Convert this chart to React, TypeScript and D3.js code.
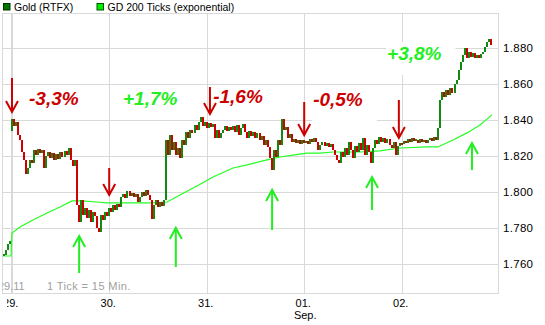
import React from 'react';
import * as d3 from 'd3';

const W = 545;
const H = 325;

// x axis: day boundaries (hours since 29 Aug 00:00)
const dayLabels = ['29.', '30.', '31.', '01.', '02.'];
const dayHours = [0, 24, 48, 72, 96];
const monthLabel = 'Sep.';
const monthHour = 72;

// y axis ticks
const yTicks = [1.76, 1.78, 1.8, 1.82, 1.84, 1.86, 1.88];

// price bars (30-minute steps), closes
const firstBarHour = -2;
const barStepHours = 0.5;
const closeValues = [
  1.7652, 1.7679, 1.7713, 1.7729, 1.8407, 1.8368, 1.8391, 1.8318, 1.8291, 1.8224,
  1.8180, 1.8102, 1.8135, 1.8180, 1.8163, 1.8235, 1.8207, 1.8241, 1.8218, 1.8235,
  1.8135, 1.8202, 1.8224, 1.8191, 1.8218, 1.8180, 1.8213, 1.8185, 1.8224, 1.8196,
  1.8230, 1.8207, 1.8246, 1.8180, 1.8146, 1.8180, 1.7929, 1.7835, 1.7957, 1.7874,
  1.7913, 1.7857, 1.7902, 1.7835, 1.7891, 1.7868, 1.7802, 1.7780, 1.7874, 1.7846,
  1.7891, 1.7868, 1.7913, 1.7891, 1.7929, 1.7902, 1.7935, 1.7918, 1.7974, 1.7991,
  1.7968, 1.8007, 1.7980, 1.7996, 1.7974, 1.7991, 1.7946, 1.7974, 1.8002, 1.7980,
  1.8013, 1.7985, 1.7957, 1.7852, 1.7929, 1.7957, 1.7918, 1.7946, 1.7924, 1.7957,
  1.8291, 1.8207, 1.8318, 1.8235, 1.8280, 1.8207, 1.8246, 1.8191, 1.8291, 1.8263,
  1.8335, 1.8302, 1.8346, 1.8330, 1.8374, 1.8346, 1.8391, 1.8418, 1.8368, 1.8391,
  1.8357, 1.8385, 1.8363, 1.8380, 1.8302, 1.8346, 1.8302, 1.8330, 1.8346, 1.8368,
  1.8341, 1.8363, 1.8346, 1.8368, 1.8335, 1.8374, 1.8318, 1.8357, 1.8380, 1.8335,
  1.8302, 1.8341, 1.8313, 1.8335, 1.8302, 1.8330, 1.8291, 1.8313, 1.8263, 1.8291,
  1.8252, 1.8191, 1.8124, 1.8235, 1.8196, 1.8291, 1.8263, 1.8407, 1.8346, 1.8363,
  1.8302, 1.8324, 1.8280, 1.8296, 1.8274, 1.8291, 1.8268, 1.8291, 1.8274, 1.8285,
  1.8268, 1.8296, 1.8280, 1.8302, 1.8280, 1.8235, 1.8263, 1.8280, 1.8257, 1.8274,
  1.8252, 1.8268, 1.8235, 1.8207, 1.8180, 1.8163, 1.8224, 1.8196, 1.8246, 1.8207,
  1.8280, 1.8235, 1.8191, 1.8257, 1.8224, 1.8274, 1.8235, 1.8302, 1.8207, 1.8263,
  1.8224, 1.8163, 1.8246, 1.8291, 1.8268, 1.8307, 1.8280, 1.8302, 1.8274, 1.8296,
  1.8263, 1.8246, 1.8280, 1.8207, 1.8257, 1.8274, 1.8268, 1.8285, 1.8274, 1.8296,
  1.8280, 1.8302, 1.8285, 1.8291, 1.8274, 1.8296, 1.8280, 1.8291, 1.8274, 1.8291,
  1.8302, 1.8285, 1.8307, 1.8291, 1.8357, 1.8513, 1.8557, 1.8530, 1.8568, 1.8541,
  1.8579, 1.8552, 1.8602, 1.8624, 1.8679, 1.8724, 1.8763, 1.8802, 1.8746, 1.8779,
  1.8752, 1.8774, 1.8746, 1.8763, 1.8746, 1.8768, 1.8779, 1.8807, 1.8835, 1.8852,
  1.8818,
];
// bar index where a new session starts, with its opening price
const sessionOpenIndex = [4];
const sessionOpenValue = [1.8341];

// GD 200 Ticks (exponential)
const maHours = [
  -2.14, -0.17, 0.07, 2.04, 5.24, 8.69, 11.89, 14.84, 17.3, 21.0, 23.46, 26.66,
  31.58, 34.78, 38.23, 41.43, 45.61, 49.55, 54.47, 57.92, 62.84, 66.04, 69.24,
  72.68, 75.88, 79.08, 85.73, 90.65, 95.58, 102.22, 104.93, 108.63, 112.07,
  115.27, 118.23,
];
const maValues = [
  1.7646, 1.7646, 1.7774, 1.7807, 1.7846, 1.7885, 1.7918, 1.7952, 1.7952, 1.7946,
  1.7941, 1.7941, 1.7941, 1.7941, 1.7946, 1.7985, 1.8035, 1.8085, 1.8135, 1.8152,
  1.8180, 1.8196, 1.8207, 1.8218, 1.8218, 1.8224, 1.8224, 1.8230, 1.8246, 1.8252,
  1.8252, 1.8291, 1.8330, 1.8374, 1.8430,
];

// annotations
const pctLabels = ['-3,3%', '+1,7%', '-1,6%', '-0,5%', '+3,8%'];
const pctHours = [4.26, 27.4, 49.6, 74.2, 92.4];
const pctPrices = [1.8485, 1.8485, 1.8496, 1.8479, 1.8735];
const pctUp = [false, true, false, false, true];

const downArrowHours = [0.07, 24.0, 48.8, 72.0, 95.3];
const downArrowTops = [1.8635, 1.8135, 1.8585, 1.8502, 1.8513];
const downArrowTips = [1.8446, 1.7985, 1.8435, 1.8318, 1.8302];

const upArrowHours = [16.6, 40.4, 64.1, 88.7, 113.3];
const upArrowTips = [1.7757, 1.7802, 1.8013, 1.8085, 1.8274];
const upArrowBottoms = [1.7552, 1.7585, 1.7791, 1.7902, 1.8124];

const legendLabels = ['Gold (RTFX)', 'GD 200 Ticks (exponential)'];

const GREEN_BAR = '#108a10';
const RED_BAR = '#d00000';
const MA_GREEN = '#22ff22';
const ARROW_RED = '#cc0000';
const ARROW_GREEN = '#22ee22';
const GRID = '#d9d9d9';
const FONT = '"Liberation Sans", Arial, sans-serif';

export default function App() {
  const L = 2.5;
  const R = 498;
  const T = 13.5;
  const B = 293.5;

  const x = d3.scaleLinear().domain([0, 96]).range([11.7, 401.7]);
  const y = d3.scaleLinear().domain([1.76, 1.88]).range([264.3, 48.3]);

  const bars = closeValues.map((c, k) => {
    const h = firstBarHour + k * barStepHours;
    const si = sessionOpenIndex.indexOf(k);
    const o = si >= 0 ? sessionOpenValue[si] : k > 0 ? closeValues[k - 1] : c;
    return { h, o, c };
  });

  const maLine = d3
    .line<number>()
    .x((_, i) => x(maHours[i]))
    .y((v) => y(v));

  const fmt = d3.format('.3f');

  const pctWidth = (s: string) => {
    const w: Record<string, number> = { '-': 0.333, '+': 0.584, ',': 0.278, '%': 0.889 };
    let t = 0;
    for (const ch of s) t += w[ch] ?? 0.556;
    return t * 19;
  };

  return (
    <svg
      width={W}
      height={H}
      style={{ position: 'absolute', left: 0, top: 0, background: '#fff' }}
      fontFamily={FONT}
    >
      <defs>
        <clipPath id="plotClip">
          <rect x={L} y={T} width={R - L} height={B - T} />
        </clipPath>
        <clipPath id="axisClip">
          <rect x={7} y={B} width={W - 7} height={H - B} />
        </clipPath>
      </defs>
      <rect x={0} y={0} width={W} height={H} fill="#fff" />

      {/* legend */}
      <rect x={3.5} y={3.5} width={6.5} height={6.5} fill="#007700" stroke="#003300" strokeWidth={1} />
      <text x={14} y={10.5} fontSize={10.5} fill="#000">{legendLabels[0]}</text>
      <rect x={97} y={3.5} width={6.5} height={6.5} fill="#00ee00" stroke="#005500" strokeWidth={1} />
      <text x={107.5} y={10.5} fontSize={10.5} fill="#000">{legendLabels[1]}</text>

      {/* grid */}
      <g shapeRendering="crispEdges">
        {yTicks.map((t) => (
          <line key={t} x1={L} x2={R} y1={Math.round(y(t)) + 0.5} y2={Math.round(y(t)) + 0.5} stroke={GRID} />
        ))}
        {dayHours.map((h, i) => (
          <line
            key={h}
            x1={Math.round(x(h)) + (i === 0 ? 0 : 0.5)}
            x2={Math.round(x(h)) + (i === 0 ? 0 : 0.5)}
            y1={T}
            y2={B}
            stroke={GRID}
            strokeWidth={i === 0 ? 2 : 1}
          />
        ))}
        <rect x={L} y={T} width={R - L} height={B - T} fill="none" stroke={GRID} />
      </g>

      <g clipPath="url(#plotClip)">
        <text x={-2} y={290} fontSize={11} fill="#a0a0a0">29.11</text>
        <text x={47} y={290} fontSize={11} fill="#a0a0a0" letterSpacing={0.4}>1 Tick = 15 Min.</text>

        {/* moving average */}
        <path d={maLine(maValues) || ''} fill="none" stroke={MA_GREEN} strokeWidth={1.2} />

        {/* price bars */}
        <g shapeRendering="crispEdges">
          {bars.map((b, i) => {
            const y1 = y(Math.max(b.o, b.c));
            const y2 = y(Math.min(b.o, b.c));
            const hgt = Math.max(2, y2 - y1);
            return (
              <rect
                key={i}
                x={Math.round(x(b.h)) - 1}
                y={y1 - (hgt - (y2 - y1)) / 2}
                width={2}
                height={hgt}
                fill={b.c >= b.o ? GREEN_BAR : RED_BAR}
              />
            );
          })}
        </g>

        {/* label boxes + labels */}
        {pctLabels.map((s, i) => {
          const tx = x(pctHours[i]);
          const ty = y(pctPrices[i]);
          const w = pctWidth(s);
          return (
            <g key={s}>
              <rect x={tx - 1} y={ty - 18} width={w + 15} height={33} fill="#fff" />
              <text
                x={tx}
                y={ty}
                fontSize={19}
                fontWeight="bold"
                fontStyle="italic"
                fill={pctUp[i] ? ARROW_GREEN : ARROW_RED}
              >
                {s}
              </text>
            </g>
          );
        })}

        {/* down arrows */}
        {downArrowHours.map((h, i) => {
          const ax = x(h);
          const top = y(downArrowTops[i]);
          const tip = y(downArrowTips[i]);
          return (
            <g key={'d' + i} stroke={ARROW_RED} strokeWidth={2} fill="none">
              <line x1={ax} x2={ax} y1={top} y2={tip} />
              <polyline points={`${ax - 6},${tip - 11} ${ax},${tip} ${ax + 6},${tip - 11}`} />
            </g>
          );
        })}

        {/* up arrows */}
        {upArrowHours.map((h, i) => {
          const ax = x(h);
          const tip = y(upArrowTips[i]);
          const bot = y(upArrowBottoms[i]);
          return (
            <g key={'u' + i} stroke={ARROW_GREEN} strokeWidth={2} fill="none">
              <line x1={ax} x2={ax} y1={tip} y2={bot} />
              <polyline points={`${ax - 6},${tip + 11} ${ax},${tip} ${ax + 6},${tip + 11}`} />
            </g>
          );
        })}
      </g>

      {/* y axis labels */}
      {yTicks.map((t) => (
        <text key={t} x={503} y={y(t) + 4} fontSize={11.5} fill="#000" letterSpacing={0.3}>
          {fmt(t)}
        </text>
      ))}

      {/* x axis labels */}
      <g clipPath="url(#axisClip)">
        {dayLabels.map((d, i) => (
          <text key={d} x={x(dayHours[i]) - 1} y={307} fontSize={11} textAnchor="middle" fill="#000">
            {d}
          </text>
        ))}
        <text x={x(monthHour) + 1} y={319} fontSize={11} textAnchor="middle" fill="#000">
          {monthLabel}
        </text>
      </g>
    </svg>
  );
}
